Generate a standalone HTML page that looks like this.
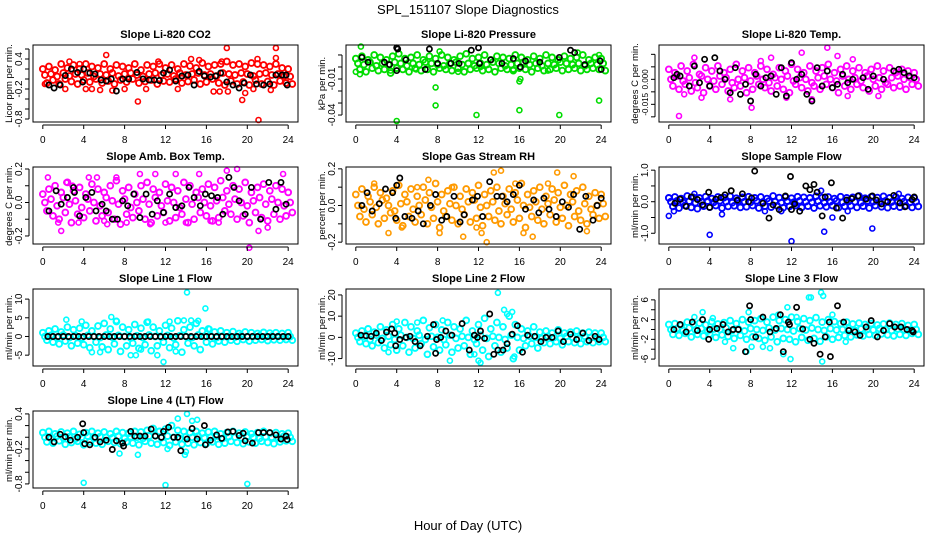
<!DOCTYPE html>
<html><head><meta charset="utf-8">
<style>
html,body{margin:0;padding:0;background:#fff;}
svg{display:block;font-family:"Liberation Sans",Arial,sans-serif;}
</style></head>
<body>
<svg id="chart" width="936" height="540" viewBox="0 0 936 540" xmlns="http://www.w3.org/2000/svg">
<text x="468" y="14" font-size="13" text-anchor="middle">SPL_151107  Slope Diagnostics</text>
<text x="468" y="530" font-size="13" text-anchor="middle">Hour of Day (UTC)</text>
</svg>
<script>
// ---- data ----
const co2A=[.2,.25,.18,.3,.22,.28,.2,.3,.25,.22,.3,.2,.28,.25,.22,.3,.18,.28,.25,.3,.22,.28,.2,.3,.26,.22,.32,.25,.28,.3,.35,.28,.3,.25,.32,.3,.28,.25,.3,.22,.2];
const co2M=[.08,.1,.05,.12,.06,.1,.08,.12,.05,.1,.08,.12,.06,.1,.12,.08,.05,.1,.12,.08,.1,.06,.12,.08,.1,.12,.08,.1,.06,.12,.1,.08,.12,.1,.06,.1,.12,.08,.1,.06,.05];
const co2B=[-.08,-.02,-.1,0,-.05,-.1,-.02,-.06,0,-.08,-.04,-.1,-.02,-.06,0,-.08,-.05,-.02,-.1,-.04,-.06,0,-.08,-.05,-.02,-.1,-.06,0,-.08,-.12,-.04,-.1,-.06,-.12,-.02,-.1,-.05,-.12,-.04,-.08,-.1];
const co2OutT=[6.2,18,22.8,22.8,21.1,9.3,19.5,15.3,14.5,3.6,11.3,2.2,4.2,4.8,5.6,6.8,10.1,13.2,16.7,17.3,18.1,19.8,20.6,22.3,0.2,8,2.6,17.5,21];
const co2OutV=[.48,.62,.62,.42,-.82,-.45,-.42,.38,.4,.3,.35,-.2,-.2,-.2,-.22,-.23,-.2,-.2,-.25,-.25,-.25,-.28,-.2,-.22,-.1,-.2,.35,.35,.4];
const co2BlkT=[.6,1.1,1.7,2.2,2.8,3.4,3.9,4,4.6,5.1,5.7,6.2,6.7,7.2,7.8,8.4,9.2,9.8,10.4,10.9,11.4,11.8,12.4,13,13.6,14.2,14.8,15.3,15.8,16.4,16.9,17.4,18,18.6,19.2,19.7,20.3,20.9,21.6,22.2,22.8,23.4,23.8,23.9];
const co2BlkV=[-.12,-.18,-.12,.07,.2,.13,-.06,.2,.12,.1,-.02,-.04,0,-.24,0,0,.13,0,-.02,-.02,-.03,.12,.18,-.04,.06,.08,-.12,.15,.06,.04,.06,.12,-.06,-.12,-.18,-.08,.08,-.1,-.12,-.1,.08,.08,.08,-.12];

const prsA=[.007,.009,.006,.01,.008,.006,.009,.011,.007,.008,.01,.006,.009,.007,.01,.008,.006,.009,.011,.007,.008,.01,.006,.009,.008,.007,.01,.008,.006,.009,.007,.01,.008,.006,.009,.007,.008,.01,.006,.008,.007];
const prsM=[.003,.002,.004,.001,.003,.002,.004,.003,.001,.003,.002,.004,.003,.002,.001,.003,.004,.002,.003,.001,.003,.002,.004,.003,.001,.002,.003,.004,.002,.003,.001,.003,.002,.004,.003,.002,.003,.001,.003,.002,.003];
const prsB=[-.002,-.004,-.001,-.003,-.002,-.005,-.001,-.002,-.004,-.001,-.003,-.002,-.004,-.001,-.002,-.003,-.001,-.004,-.002,-.001,-.003,-.002,-.004,-.001,-.002,-.003,-.001,-.002,-.004,-.001,-.003,-.002,-.001,-.003,-.002,-.001,-.003,-.002,-.001,-.002,-.003];
const prsOutT=[0.5,4,7.8,7.8,11.8,16,19.9,23.8,12.2,0,0.4,3.4,5.9,8.2,10,15.4,16,16.1,18.8,21.7,23.8];
const prsOutV=[.017,-.045,-.017,-.032,-.04,-.036,-.04,-.028,0,-.004,-.006,-.003,-.002,.013,-.004,-.002,-.012,-.01,-.003,.012,.01];
const prsBlkT=[4,4.1,0.6,1.2,2.8,3.3,4.9,7.2,11.3,12,13.2,15.4,16.1,19.9,21,21.4,24,23.9,8,10.1,12.1,6.8,4,14.3,16.6,18,22.4,9.3];
const prsBlkV=[.016,.015,.008,.004,.004,.002,.006,.015,.014,.016,.006,.007,0,.008,.014,.012,-.002,.005,.003,.003,.003,-.002,-.003,.003,.005,.004,.002,.003];

const ltA=[.006,.004,.008,.005,.009,.003,.007,.005,.008,.004,.006,.009,.005,.007,.004,.008,.006,.003,.007,.005,.009,.006,.004,.008,.005,.007,.009,.004,.006,.008,.005,.007,.004,.006,.008,.005,.007,.004,.006,.005,.004];
const ltM=[0,.002,-.001,.001,-.002,.002,0,-.001,.002,.001,-.002,0,.001,-.001,.002,0,-.002,.001,0,.002,-.001,.001,0,-.002,.001,.002,0,-.001,.002,0,.001,-.001,.002,0,.001,-.002,.001,.002,0,.001,0];
const ltB=[-.004,-.006,-.003,-.007,-.005,-.008,-.004,-.006,-.003,-.007,-.005,-.004,-.008,-.006,-.003,-.005,-.007,-.004,-.006,-.008,-.003,-.005,-.007,-.004,-.006,-.003,-.005,-.008,-.004,-.006,-.003,-.005,-.007,-.004,-.006,-.003,-.005,-.004,-.006,-.003,-.004];
const ltOutT=[1,2.5,13,15.5,6,8.1,3.2,14,17.5,20.5,18,16.5,1.5,10,11.5,9];
const ltOutV=[-.022,.013,.016,.019,-.012,-.017,-.011,-.012,-.01,-.01,.012,.014,-.009,.013,-.011,.011];
const ltBlkT=[.5,.8,1.1,2,2.5,3,3.5,4,4.5,5,5.5,6,6.5,7,7.5,8,8.5,9,9.5,10,10.5,11,11.5,12,12.5,13,13.5,14,14.5,15,15.5,16,16.5,17,17.5,18,19,19.5,20,21,22,22.5,23,23.5,24];
const ltBlkV=[.001,.003,.002,-.004,.008,-.002,.012,-.004,.013,.005,0,-.008,.007,-.009,-.003,-.013,.003,-.004,.001,.002,-.009,.007,-.01,.01,0,.003,-.009,-.013,.007,-.004,.005,-.005,-.003,.003,-.002,0,.001,-.006,.002,0,.005,.006,.004,.002,.001];

const ambA=[.05,.08,.1,.06,.12,.07,.09,.05,.11,.08,.06,.1,.13,.07,.09,.05,.1,.12,.08,.06,.11,.09,.07,.12,.1,.06,.08,.11,.09,.13,.07,.1,.08,.12,.06,.09,.11,.07,.1,.08,.06];
const ambM=[0,.02,-.02,.03,-.01,.01,-.03,.02,0,-.02,.03,.01,-.01,.02,-.03,0,.02,-.01,.03,-.02,.01,0,-.03,.02,-.01,.03,0,-.02,.01,.03,-.01,.02,0,-.02,.01,.03,-.01,.02,0,-.02,0];
const ambB=[-.05,-.08,-.1,-.06,-.12,-.07,-.09,-.05,-.11,-.08,-.06,-.1,-.13,-.07,-.09,-.05,-.1,-.12,-.08,-.06,-.11,-.09,-.07,-.12,-.1,-.06,-.08,-.11,-.09,-.05,-.07,-.1,-.08,-.12,-.06,-.09,-.11,-.07,-.1,-.08,-.06];
const ambOutT=[.5,1.8,2.3,2.9,4.5,5.3,6,7.2,9.5,11,13,15.3,18,19,20.2,21.1,22,23.5,1.5,3.5,6.3,8.2,10.5,14,16.4,17.2,12];
const ambOutV=[.15,-.17,.12,.1,.15,.15,-.11,.15,.17,.17,.17,.17,.19,.2,-.27,-.17,-.15,.17,-.12,-.12,-.13,-.12,-.13,-.12,-.11,-.12,-.12];
const ambBlkT=[.6,1.3,1.8,2.4,3,3.1,3.6,4.2,4.8,5.2,5.8,6.2,6.8,7.3,7.8,8.3,8.9,9.5,10.1,10.7,11.2,11.8,12.4,13,13.6,14.3,14.8,15.4,15.9,16.5,17.1,17.6,18.2,18.7,19.2,19.8,20.4,21.3,22.1,22.8,23.3,23.8];
const ambBlkV=[-.05,.07,-.01,.03,.09,.06,-.08,.03,.06,-.05,-.01,-.05,-.1,-.1,.01,-.02,.05,-.09,.05,-.07,.01,-.06,.05,-.03,-.02,.09,.03,-.02,.05,.04,.03,-.07,.15,.09,.01,-.07,.09,-.1,.12,-.04,.12,-.01];

const rhA=[.06,.09,.05,.1,.07,.04,.08,.11,.06,.09,.05,.1,.07,.12,.06,.08,.1,.05,.09,.07,.11,.06,.08,.1,.05,.09,.07,.12,.06,.08,.1,.05,.09,.07,.11,.06,.08,.1,.05,.07,.06];
const rhM=[0,-.02,.02,-.01,.03,0,-.03,.01,.02,-.02,0,.03,-.01,.02,-.03,.01,0,-.02,.02,.03,-.01,0,.02,-.03,.01,-.02,.03,0,-.01,.02,-.02,.01,.03,-.01,0,.02,-.03,.01,-.02,0,.01];
const rhB=[-.06,-.09,-.05,-.1,-.07,-.04,-.08,-.11,-.06,-.09,-.05,-.1,-.07,-.12,-.06,-.08,-.1,-.05,-.09,-.07,-.11,-.06,-.08,-.1,-.05,-.09,-.07,-.12,-.06,-.08,-.1,-.05,-.09,-.07,-.11,-.06,-.08,-.1,-.05,-.07,-.06];
const rhOutT=[1.8,3.2,6,8.2,9.4,10.5,11.8,12.3,13.5,14.2,15.6,16.4,17.3,19.7,21.3,22.6,12.8,4.5,7.1,18.8];
const rhOutV=[.12,-.15,.1,-.15,.1,-.17,-.12,-.15,.18,.19,.12,-.15,-.17,.18,.16,-.14,-.2,-.12,.14,.12];
const rhBlkT=[.6,1.1,1.6,2.3,2.9,3.6,3.9,4,4.3,4.8,5.5,6.1,6.6,7.3,7.8,8.4,8.9,9.6,10.2,10.6,11.4,11.9,12.4,13.1,13.8,14.3,14.8,15.4,16,16.6,17.4,17.9,18.4,18.9,19.6,20.2,20.8,21.3,21.9,22.5,23.2,23.6,24];
const rhBlkV=[0,.07,-.03,.01,.09,.07,-.07,.11,.15,-.06,-.07,-.03,-.1,0,.06,-.08,-.06,.05,-.09,-.05,.03,.05,-.06,.13,.05,.05,.02,.06,.11,-.02,.03,-.04,.04,-.02,-.06,.02,-.01,.06,-.13,.05,-.08,0,.04];

const sfA=[.12,.15,.1,.18,.14,.12,.16,.1,.15,.13,.17,.11,.14,.16,.12,.15,.1,.18,.13,.15,.11,.16,.14,.12,.17,.13,.15,.1,.16,.12,.14,.18,.11,.15,.13,.17,.12,.15,.1,.14,.12];
const sfM=[0,.03,-.02,.02,-.03,0,.02,-.02,.03,0,-.03,.02,0,-.02,.03,-.01,.02,0,-.03,.02,-.02,.03,0,-.02,.02,-.03,0,.03,-.02,.01,0,-.03,.02,0,-.02,.03,-.01,.02,0,-.02,0];
const sfB=[-.15,-.2,-.12,-.18,-.22,-.14,-.17,-.12,-.2,-.15,-.13,-.18,-.16,-.12,-.2,-.14,-.17,-.13,-.19,-.15,-.12,-.18,-.14,-.2,-.13,-.16,-.12,-.19,-.15,-.13,-.18,-.14,-.2,-.12,-.16,-.19,-.14,-.17,-.13,-.18,-.15];
const sfOutT=[0,4,12,15.2,19.9,.5,5.2,14.9,2.5,9.4,11,17.5,16,22.5];
const sfOutV=[-.45,-1.05,-1.25,-.95,-.85,-.3,-.4,.35,.25,-.3,-.3,-.3,-.5,.25];
const sfBlkT=[.6,1.1,1.7,2.2,2.8,3.3,3.9,4,4.6,5.1,5.5,6.1,6.7,7.2,7.8,8.1,8.4,9.2,9.8,10.2,10.8,11.4,11.9,12,12.3,12.8,13.4,13.8,14.2,14.5,15,15.3,15.9,16.4,17,17.4,17.9,18.5,19.3,19.9,20.3,20.8,21.4,22,22.6,23.1,23.8,24];
const sfBlkV=[-.05,.08,-.15,.15,.07,-.1,.3,-.18,.08,.13,.22,.35,.05,.25,0,.12,.97,-.05,-.52,-.1,-.25,.18,.8,-.25,-.07,-.3,.5,.38,.55,.3,-.45,.15,.6,-.2,-.52,.05,.1,.18,.08,.18,.05,-.07,0,.2,-.04,-.16,.07,.15];

const l1A=[1,1.5,2,1.2,2.5,1.8,2.2,3,1.5,2.8,3.5,2,4,2.5,1.8,3.2,2.2,3.8,2.5,1.5,3,2.2,4.2,1.8,2.5,3.5,1.5,2,1.2,1.5,1,1.3,.8,1.2,1,.8,1.1,.9,1,.8,1];
const l1M=[0,.3,-.2,.4,-.3,.2,-.4,.3,0,-.3,.4,-.2,.3,0,-.4,.2,-.3,.4,0,-.2,.3,-.4,.2,0,-.3,.4,-.1,.2,-.3,.1,0,-.2,.2,-.1,0,.2,-.1,.1,0,-.1,0];
const l1B=[-1,-1.5,-2,-1.2,-2.5,-1.8,-2.2,-3,-1.5,-2.8,-3.5,-2,-4,-2.5,-1.8,-3.2,-2.2,-3.8,-2.5,-1.5,-3,-2.2,-4.2,-1.8,-2.5,-3.5,-1.5,-2,-1.2,-1.5,-1,-1.3,-.8,-1.2,-1,-.8,-1.1,-.9,-1,-.8,-1];
const l1OutT=[14.1,15.9,11.8,2.3,3.8,4.8,5.6,7.2,8.6,9.1,10.3,11.2,12.4,13,13.8,14.5,15.2,16.3,6.7,9.6];
const l1OutV=[11.8,7.5,-6.8,4.5,4,-4.2,-4.2,4.2,-5,-5,4,-5,4,-4,4.3,4.3,4.2,2,5.2,-3.5];
const l1BlkT=[.5,1,1.5,2,2.5,3,3.5,4,4.5,5,5.5,6,6.5,7,7.5,8,8.5,9,9.5,10,10.5,11,11.5,12,12.5,13,13.5,14,14.5,15,15.5,16,16.5,17,17.5,18,18.5,19,19.5,20,20.5,21,21.5,22,22.5,23,23.5,24];
const l1BlkV=[0,0,0,0,0,0,0,0,0,0,0,0,0,0,0,0,0,0,0,0,0,0,0,0,0,0,0,0,0,0,0,0,0,0,0,0,0,0,0,0,0,0,0,0,0,0,0,0];

const l2A=[2,3,4,2.5,5,3.5,6,4,7,5,3,8,4.5,6,3.5,7,5,4,8,3,6,9,4,7,5,10,6,4,3,5,2.5,3,2,3.5,2,2.5,3,2,2.5,2,2];
const l2M=[0,.5,-1,1,-.5,.5,-1,1,0,-.5,1,-1,.5,0,-1,1,-.5,.5,0,-1,1,-.5,.5,0,-1,1,0,-.5,.5,0,-.5,.5,0,-.5,.5,0,-.5,.5,0,-.5,0];
const l2B=[-2,-3,-4,-2.5,-5,-3.5,-6,-4,-7,-5,-3,-8,-4.5,-6,-3.5,-7,-5,-4,-8,-3,-6,-9,-4,-7,-5,-10,-6,-4,-3,-5,-2.5,-3,-2,-3.5,-2,-2.5,-3,-2,-2.5,-2,-2];
const l2OutT=[13.9,14.5,14.8,15.3,12,11.6,12.2,9.2,4,6,15.5,8.5,3.2];
const l2OutV=[21,13,11,12,-11,-8,-12,-11,7.5,7,-9,8,-7];
const l2BlkT=[.5,1,1.5,2,2.5,3,3.5,3.8,3.9,4.3,4.9,5.3,5.8,6.3,7,7.6,7.8,7.9,8.3,8.8,9.4,10.4,11.1,11.6,11.9,12.2,12.6,13.1,13.5,13.9,14.4,14.8,15.3,15.8,16.3,16.8,17.5,18.1,18.6,19.2,19.8,20.3,21,21.6,22.2,22.8,23.4,23.8];
const l2BlkV=[1,.8,.5,2,-1.5,2.5,4,2,-4,-1,0,.5,-2,-4,.5,6,-7.5,-1,0,3,1,6.5,-6,1,0,3,-.5,11,-8,-6,-6,-3,1.5,5.5,-7,1,.5,-2,0,0,3,-2,1.5,-1,2,-1.5,.5,-1];

const l3A=[1,1.2,.8,1.5,1,1.3,.9,1.6,1.1,1.4,1.8,1.2,2,1.5,1.8,2.2,1.5,2.5,1.8,2,2.5,1.6,2.2,1.8,2.4,1.5,2,1.6,1.2,1.5,1.1,1.3,1,1.2,.9,1.1,1.3,1,1.2,.8,1];
const l3M=[0,.2,-.2,.3,-.1,.2,-.3,.1,0,.3,-.2,.1,-.3,.2,0,-.2,.3,-.1,.2,0,-.3,.2,-.1,.3,0,-.2,.2,-.1,0,.2,-.2,.1,0,-.1,.2,0,-.2,.1,0,-.1,0];
const l3B=[-1,-1.2,-.8,-1.5,-1,-1.3,-.9,-1.6,-1.1,-1.4,-1.8,-1.2,-2,-1.5,-1.8,-2.2,-1.5,-2.5,-1.8,-2,-2.5,-1.6,-2.2,-1.8,-2.4,-1.5,-2,-1.6,-1.2,-1.5,-1.1,-1.3,-1,-1.2,-.9,-1.1,-1.3,-1,-1.2,-.8,-1];
const l3OutT=[14.9,15.1,13.7,13.9,11.6,11.9,15,7.6,7.8,8.1,9.2,9.9,11.2,16,2.5,3.3,5.5,6.3,4.3,12.5,17.3,10.7];
const l3OutV=[7.5,6.8,6.5,6.5,4.5,-6,-6.5,-4.5,3.5,-3.5,-3.5,-3.8,-5,3,2.5,3.5,-2.5,-3.8,2.3,2.5,-2.5,3];
const l3BlkT=[.5,1.1,1.7,2.3,2.8,3.3,3.9,4,4.7,5.3,5.8,6.3,6.8,7.5,7.9,8,8.5,9.2,9.9,10.5,10.9,11.2,11.7,11.8,12.5,13.1,13.8,14.2,14.8,15.3,15.7,15.8,16.5,17.1,17.6,18.2,18.7,19.3,19.8,20.4,21,21.6,22.1,22.7,23.3,23.8,23.9];
const l3BlkV=[0,1,-.5,1.5,-.2,2,-2,0,.2,1,-.5,0,0,-4.5,4.8,2,-1.5,2.5,-.5,.2,3,-4.5,1.5,1,4.5,.1,-2,-2.8,-5,-1.5,1.5,-5.5,4.8,1.5,-.2,-.5,-1.2,.5,1.8,-1.5,-.2,1.2,.5,.5,0,-.2,-.5];

const l4A=[.08,.1,.06,.09,.07,.1,.05,.08,.1,.07,.09,.06,.1,.08,.07,.1,.09,.12,.15,.1,.14,.2,.12,.1,.08,.1,.07,.09,.1,.06,.08,.1,.07,.09,.06,.08,.1,.07,.08,.06,.07];
const l4M=[0,-.02,.02,-.01,.01,-.03,0,.02,-.02,.01,0,-.01,.02,-.02,.01,0,-.02,.02,.03,-.01,.02,0,-.02,.01,0,.02,-.01,0,.02,-.02,.01,0,-.01,.02,0,-.02,.01,0,-.01,.02,0];
const l4B=[-.08,-.1,-.06,-.12,-.09,-.07,-.13,-.08,-.1,-.12,-.07,-.09,-.11,-.08,-.1,-.13,-.07,-.1,-.12,-.09,-.14,-.08,-.12,-.1,-.13,-.09,-.11,-.08,-.12,-.1,-.07,-.09,-.11,-.08,-.1,-.07,-.09,-.11,-.08,-.06,-.07];
const l4OutT=[4,12,20,14.1,13.2,15.1,14.6,13.9,7.5,9.3,14,12.2];
const l4OutV=[-.78,-.82,-.8,.4,.32,.3,.28,-.3,-.28,-.3,-.25,-.2];
const l4BlkT=[.6,1.1,1.7,2.2,2.7,3.4,3.9,4,4.1,4.6,5.1,5.6,6.2,6.8,7.2,7.8,7.9,8.6,9,9.5,10,10.6,11,11.6,11.8,12.3,12.8,13.2,13.5,14.1,14.6,15.1,15.8,15.9,16.4,17,17.5,18.1,18.6,19.2,19.6,19.8,20.5,21.1,21.6,22.2,22.8,23.3,23.8,23.9];
const l4BlkV=[0,-.08,.05,.01,-.05,0,.23,.08,-.11,-.13,0,-.08,-.05,-.21,-.06,-.1,-.15,.1,.02,.02,.02,.14,.02,0,.1,.17,0,0,-.23,-.03,.15,-.03,.2,-.13,-.05,.04,-.02,.09,.1,.03,.07,-.06,-.1,.08,.08,.08,.04,-.03,.02,-.04];

const xTicks=[0,4,8,12,16,20,24];
const co2Ticks=[-0.8,-0.6,-0.4,-0.2,0,0.2,0.4,0.6]; const co2Labels=["0.4","-0.2","-0.8"];
const prsTicks=[-0.04,-0.03,-0.02,-0.01,0,0.01]; const prsLabels=["-0.01","-0.04"];
const ltTicks=[-0.0225,-0.015,-0.0075,0,0.0075,0.015]; const ltLabels=["0.000","-0.015"];
const ambTicks=[-0.2,-0.1,0,0.1,0.2]; const ambLabels=["0.2","0.0","-0.2"];
const rhTicks=[-0.2,-0.1,0,0.1,0.2]; const rhLabels=["0.2","0.0","-0.2"];
const sfTicks=[-1,-0.5,0,0.5,1]; const sfLabels=["1.0","0.0","-1.0"];
const l1Ticks=[-5,0,5,10]; const l1Labels=["10","5","0","-5"];
const l2Ticks=[-10,0,10,20]; const l2Labels=["20","10","0","-10"];
const l3Ticks=[-6,-4,-2,0,2,4,6]; const l3Labels=["6","2","-2","-6"];
const l4Ticks=[-0.8,-0.6,-0.4,-0.2,0,0.2,0.4]; const l4Labels=["0.4","-0.2","-0.8"];

// ---- layout ----
const NS="http://www.w3.org/2000/svg";
const svg=document.getElementById('chart');
const colL=[33,346,659], rowT=[45,167,289,411], W=265, H=77;
const panels=[
 {key:'co2',title:'Slope Li-820 CO2',ylab:'Licor ppm per min.',c:0,r:0,d:[-0.86,0.68],col:'#ff0000',A:co2A,M:co2M,B:co2B,oT:co2OutT,oV:co2OutV,bT:co2BlkT,bV:co2BlkV,ticks:co2Ticks,labs:co2Labels},
 {key:'pressure',title:'Slope Li-820 Pressure',ylab:'kPa per min.',c:1,r:0,d:[-0.0458,0.0183],col:'#00dd00',A:prsA,M:prsM,B:prsB,oT:prsOutT,oV:prsOutV,bT:prsBlkT,bV:prsBlkV,ticks:prsTicks,labs:prsLabels},
 {key:'li-temp',title:'Slope Li-820 Temp.',ylab:'degrees C per min.',c:2,r:0,d:[-0.0256,0.0206],col:'#ff00ff',A:ltA,M:ltM,B:ltB,oT:ltOutT,oV:ltOutV,bT:ltBlkT,bV:ltBlkV,ticks:ltTicks,labs:ltLabels,fs:8},
 {key:'amb-temp',title:'Slope Amb. Box Temp.',ylab:'degrees C per min.',c:0,r:1,d:[-0.248,0.212],col:'#ff00ff',A:ambA,M:ambM,B:ambB,oT:ambOutT,oV:ambOutV,bT:ambBlkT,bV:ambBlkV,ticks:ambTicks,labs:ambLabels},
 {key:'rh',title:'Slope Gas Stream RH',ylab:'percent per min.',c:1,r:1,d:[-0.21,0.21],col:'#ff9a00',A:rhA,M:rhM,B:rhB,oT:rhOutT,oV:rhOutV,bT:rhBlkT,bV:rhBlkV,ticks:rhTicks,labs:rhLabels},
 {key:'sample-flow',title:'Slope Sample Flow',ylab:'ml/min per min.',c:2,r:1,d:[-1.34,1.1],col:'#0000ff',A:sfA,M:sfM,B:sfB,oT:sfOutT,oV:sfOutV,bT:sfBlkT,bV:sfBlkV,ticks:sfTicks,labs:sfLabels},
 {key:'line1',title:'Slope Line 1 Flow',ylab:'ml/min per min.',c:0,r:2,d:[-7.9,12.7],col:'#00ffff',A:l1A,M:l1M,B:l1B,oT:l1OutT,oV:l1OutV,bT:l1BlkT,bV:l1BlkV,ticks:l1Ticks,labs:l1Labels},
 {key:'line2',title:'Slope Line 2 Flow',ylab:'ml/min per min.',c:1,r:2,d:[-13.5,22.8],col:'#00ffff',A:l2A,M:l2M,B:l2B,oT:l2OutT,oV:l2OutV,bT:l2BlkT,bV:l2BlkV,ticks:l2Ticks,labs:l2Labels},
 {key:'line3',title:'Slope Line 3 Flow',ylab:'ml/min per min.',c:2,r:2,d:[-7.4,8.2],col:'#00ffff',A:l3A,M:l3M,B:l3B,oT:l3OutT,oV:l3OutV,bT:l3BlkT,bV:l3BlkV,ticks:l3Ticks,labs:l3Labels},
 {key:'line4',title:'Slope Line 4 (LT) Flow',ylab:'ml/min per min.',c:0,r:3,d:[-0.87,0.45],col:'#00ffff',A:l4A,M:l4M,B:l4B,oT:l4OutT,oV:l4OutV,bT:l4BlkT,bV:l4BlkV,ticks:l4Ticks,labs:l4Labels}
];
function mk(tag,attrs,parent){const e=document.createElementNS(NS,tag);for(const k in attrs)e.setAttribute(k,attrs[k]);(parent||svg).appendChild(e);return e;}

panels.forEach(p=>{
  const L=colL[p.c], T=rowT[p.r], B=T+H, R=L+W;
  const xs=t=>L+(t+0.96)/25.92*W;
  const ys=v=>B-(v-p.d[0])/(p.d[1]-p.d[0])*H;
  const g=mk('g',{});
  
  
  const tt=mk('text',{x:(L+R)/2,y:T-7,'font-size':11,'font-weight':'bold','text-anchor':'middle'},g);
  tt.textContent=p.title;
  
  
  const yl=mk('text',{x:0,y:0,'font-size':9.5,'text-anchor':'middle',transform:`translate(${L-21},${(T+B)/2}) rotate(-90)`},g);
  yl.textContent=p.ylab;
  
  
  const series=[[p.A,0],[p.M,0.2],[p.B,0.4]];
  series.forEach(([arr,off])=>{arr.forEach((v,i)=>{
    const c=mk('circle',{cx:xs(i*0.6+off).toFixed(1),cy:ys(v).toFixed(1),r:2.9,fill:'none',stroke:p.col,'stroke-width':1.9},g);
    
    
  });});
  p.oT.forEach((t,i)=>{
    const c=mk('circle',{cx:xs(t).toFixed(1),cy:ys(p.oV[i]).toFixed(1),r:2.5,fill:'none',stroke:p.col,'stroke-width':1.6},g);
    
    
  });
  p.bT.forEach((t,i)=>{
    const c=mk('circle',{cx:xs(t).toFixed(1),cy:ys(p.bV[i]).toFixed(1),r:2.6,fill:'none',stroke:'#000','stroke-width':1.7},g);
    
    
  });
  const box=mk('rect',{x:L,y:T,width:W,height:H,fill:'none',stroke:'#000','stroke-width':1},g);
  
  
  mk('line',{x1:xs(0),x2:xs(24),y1:B+3,y2:B+3,stroke:'#000'},g);
  xTicks.forEach(t=>{
    mk('line',{x1:xs(t),x2:xs(t),y1:B+3,y2:B+7,stroke:'#000'},g);
    const lb=mk('text',{x:xs(t),y:B+21,'font-size':10,'text-anchor':'middle'},g);
    lb.textContent=String(t);
    
    
  });
  const tk=p.ticks;
  mk('line',{x1:L-4,x2:L-4,y1:ys(tk[0]),y2:ys(tk[tk.length-1]),stroke:'#000'},g);
  tk.forEach(v=>{ mk('line',{x1:L-8,x2:L-4,y1:ys(v),y2:ys(v),stroke:'#000'},g); });
  p.labs.forEach(s=>{
    const v=parseFloat(s);
    const lb=mk('text',{x:0,y:0,'font-size':p.fs||10,'text-anchor':'middle',transform:`translate(${L-11},${ys(v).toFixed(1)}) rotate(-90)`},g);
    lb.textContent=s;
    
    
  });
});
</script>
</body></html>
